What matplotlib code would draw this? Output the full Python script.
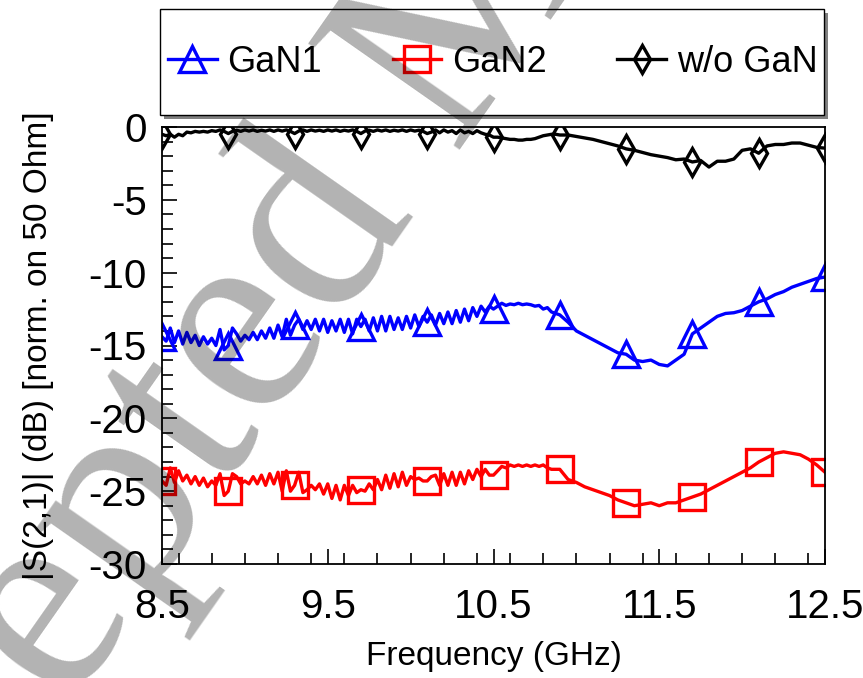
import matplotlib
matplotlib.use("Agg")
import matplotlib.pyplot as plt
import numpy as np
from matplotlib.patches import Rectangle
from matplotlib.ticker import MultipleLocator, FixedLocator

plt.rcParams['font.family'] = ['Liberation Sans', 'DejaVu Sans']

# frequency grid (GHz): dense part 8.5..10.875 step 0.025, then 10.9..12.5 step 0.05
freq = np.concatenate([np.arange(96) * 0.025 + 8.5, np.arange(33) * 0.05 + 10.9])

gan1 = [-14.4, -14.7, -13.8, -14.8, -14.0, -14.9, -14.1, -14.8, -14.3, -15.0,
        -14.4, -14.9, -14.5, -15.0, -13.9, -15.3, -15.0, -13.8, -14.2, -14.7,
        -14.3, -14.6, -14.1, -14.6, -14.0, -14.5, -13.8, -14.5, -13.6, -14.4,
        -13.2, -14.3, -13.6, -13.2, -13.9, -13.3, -13.9, -13.2, -14.0, -13.2,
        -14.1, -13.3, -14.0, -13.2, -14.1, -13.2, -14.2, -13.2, -13.7, -13.2,
        -14.0, -13.1, -14.0, -13.0, -14.0, -13.0, -13.9, -13.1, -13.9, -13.0,
        -13.8, -12.9, -13.7, -13.0, -13.4, -12.9, -13.6, -12.8, -13.5, -12.7,
        -13.5, -12.6, -13.4, -12.5, -13.3, -12.4, -13.0, -12.3, -12.7, -12.3,
        -12.5, -12.3, -12.1, -12.25, -12.15, -12.2, -12.1, -12.2, -12.15, -12.2,
        -12.3, -12.25, -12.5, -12.4, -12.7, -12.8,
        -12.9, -13.4, -14.0, -14.3, -14.6, -14.9, -15.2, -15.5, -15.6, -16.0,
        -16.1, -16.0, -16.3, -16.4, -16.0, -15.6, -14.2, -13.8, -13.4, -13.0,
        -12.8, -12.75, -12.6, -12.3, -12.0, -11.8, -11.5, -11.3, -11.0, -10.8,
        -10.6, -10.4, -10.3]

gan2 = [-24.3, -24.6, -23.4, -24.4, -23.6, -24.3, -23.9, -24.5, -24.0, -24.6,
        -24.1, -24.7, -24.3, -24.6, -23.8, -25.3, -25.0, -23.8, -24.0, -24.5,
        -24.3, -24.5, -24.0, -24.5, -23.9, -24.6, -23.8, -24.5, -23.7, -25.0,
        -23.6, -25.0, -24.6, -23.7, -25.1, -24.9, -24.6, -24.9, -24.5, -25.2,
        -24.5, -25.5, -24.6, -25.6, -24.6, -25.3, -24.6, -25.1, -24.9, -25.0,
        -24.5, -24.9, -24.2, -24.9, -23.9, -24.8, -23.8, -24.7, -23.7, -24.6,
        -24.0, -24.2, -24.1, -24.3, -24.3, -24.0, -23.9, -24.6, -23.8, -24.6,
        -23.7, -24.6, -23.7, -24.5, -23.6, -24.2, -23.5, -24.0, -23.5, -23.9,
        -23.9, -23.6, -23.3, -23.4, -23.2, -23.3, -23.2, -23.3, -23.2, -23.3,
        -23.2, -23.3, -23.2, -23.4, -23.5, -23.5,
        -23.5, -24.2, -24.4, -24.7, -24.9, -25.1, -25.3, -25.6, -25.8, -26.0,
        -25.9, -25.8, -26.0, -25.8, -25.8, -25.6, -25.4, -25.2, -24.9, -24.6,
        -24.3, -24.0, -23.7, -23.4, -23.0, -22.7, -22.4, -22.3, -22.4, -22.5,
        -22.8, -23.2, -23.7]

wo_gan = [-0.5, -0.6, -0.5, -0.7, -0.5, -0.6, -0.35, -0.4, -0.3, -0.35,
          -0.3, -0.35, -0.25, -0.3, -0.2, -0.3, -0.45, -0.3, -0.22, -0.3,
          -0.2, -0.28, -0.2, -0.3, -0.22, -0.28, -0.2, -0.3, -0.2, -0.28,
          -0.2, -0.3, -0.45, -0.28, -0.2, -0.3, -0.2, -0.28, -0.22, -0.3,
          -0.2, -0.28, -0.2, -0.3, -0.22, -0.28, -0.2, -0.3, -0.45, -0.28,
          -0.22, -0.3, -0.2, -0.28, -0.2, -0.3, -0.22, -0.28, -0.2, -0.3,
          -0.2, -0.28, -0.22, -0.3, -0.45, -0.35, -0.2, -0.4, -0.2, -0.35,
          -0.25, -0.45, -0.2, -0.4, -0.3, -0.45, -0.25, -0.4, -0.5, -0.55,
          -0.7, -0.7, -0.75, -0.8, -0.85, -0.85, -0.9, -0.9, -0.85, -0.85,
          -0.8, -0.7, -0.6, -0.55, -0.5, -0.5,
          -0.55, -0.55, -0.65, -0.75, -0.85, -1.0, -1.15, -1.3, -1.5, -1.6,
          -1.75, -1.9, -2.0, -2.1, -2.25, -2.2, -2.4, -2.3, -2.75, -2.35,
          -2.35, -2.2, -1.6, -1.5, -1.8, -1.3, -1.2, -1.2, -1.1, -1.1,
          -1.25, -1.4, -1.45]

marker_freq = [8.5, 8.9, 9.3, 9.7, 10.1, 10.5, 10.9, 11.3, 11.7, 12.1, 12.5]
labels = ['GaN1', 'GaN2', 'w/o GaN']
xticks = [8.5, 9.5, 10.5, 11.5, 12.5]
yticks = [0, -5, -10, -15, -20, -25, -30]

marks = [int(np.argmin(np.abs(freq - m))) for m in marker_freq]

fig = plt.figure(figsize=(8.63, 6.78), dpi=100)
ax = fig.add_axes([162 / 863, 1 - 564 / 678, 663 / 863, 437 / 678])

lw = 2.4
ax.plot(freq, gan1, color='#0000ff', lw=lw, marker='^', ms=19, mfc='none',
        mew=lw, markevery=marks, label=labels[0], solid_joinstyle='round')
ax.plot(freq, gan2, color='#ff0000', lw=lw, marker='s', ms=19, mfc='none',
        mew=lw, markevery=marks, label=labels[1], solid_joinstyle='round')
ax.plot(freq, wo_gan, color='black', lw=lw, marker='d', ms=14, mfc='none',
        mew=lw, markevery=marks, label=labels[2], solid_joinstyle='round')

ax.set_xlim(8.5, 12.5)
ax.set_ylim(-30, 0)
ax.xaxis.set_major_locator(FixedLocator(xticks))
ax.xaxis.set_minor_locator(MultipleLocator(0.2))
ax.yaxis.set_major_locator(FixedLocator(yticks))
ax.yaxis.set_minor_locator(MultipleLocator(1))
ax.set_xticklabels([f'{v:g}' for v in xticks])
ax.set_yticklabels([f'{v:g}' for v in yticks])
ax.tick_params(which='both', direction='in', top=False, right=False, width=1.2)
ax.tick_params(which='major', length=10.5, labelsize=29)
ax.tick_params(axis='x', which='major', pad=17)
ax.tick_params(axis='y', which='major', pad=11)
ax.tick_params(which='minor', length=8)
for s in ax.spines.values():
    s.set_linewidth(1.3)

ax.set_xlabel('Frequency (GHz)', fontsize=24, labelpad=11)
ax.set_ylabel('|S(2,1)| (dB) [norm. on 50 Ohm]', fontsize=24, labelpad=25)

# legend box with drop shadow
fig.patches.append(Rectangle((164 / 863, 1 - 119 / 678), 664 / 863, 106 / 678,
                             transform=fig.transFigure, facecolor='#808080',
                             edgecolor='none', zorder=1))
fig.patches.append(Rectangle((160 / 863, 1 - 115 / 678), 664 / 863, 106 / 678,
                             transform=fig.transFigure, facecolor='white',
                             edgecolor='black', lw=1.0, zorder=2))
fig.legend(loc='center left', bbox_to_anchor=(168 / 863, 1 - 62 / 678), ncol=3,
           frameon=False, fontsize=26, handlelength=1.35, handletextpad=0.3,
           columnspacing=1.95, borderpad=0, borderaxespad=0, numpoints=1)

# watermark
fig.text(-192 / 863, 1 - 1081 / 678, 'Accepted Manuscript', fontsize=202,
         family='Liberation Serif', color='black', alpha=0.3, rotation=55,
         rotation_mode='anchor', ha='left', va='baseline', zorder=20)

fig.savefig('out.png', dpi=100)
